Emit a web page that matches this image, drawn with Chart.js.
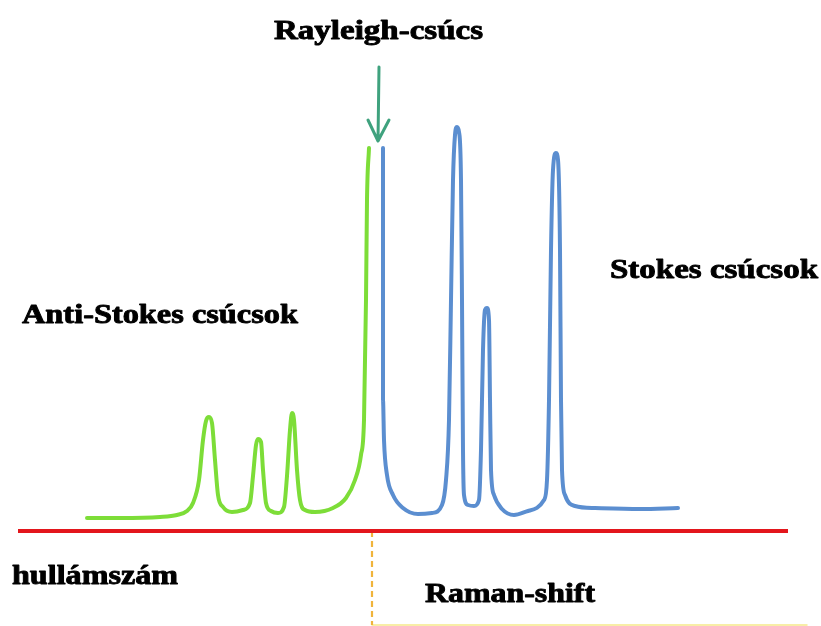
<!DOCTYPE html>
<html>
<head>
<meta charset="utf-8">
<script src="https://cdn.jsdelivr.net/npm/chart.js@4/dist/chart.umd.min.js"></script>
<style>
  html, body { margin: 0; padding: 0; background: #ffffff; }
  #wrap { width: 821px; height: 626px; }
</style>
</head>
<body>
<div id="wrap"><canvas id="c" width="821" height="626"></canvas></div>
<script>
// ---- Data (Raman shift relative to Rayleigh line = 0, intensity relative to baseline = 0) ----
const antiStokesShift = [-285, -252, -212, -195, -185, -179, -173, -169, -166, -163, -160, -157, -154, -149, -140, -129, -122, -119, -116, -114, -111, -109, -106, -101, -94, -88, -85, -82, -80, -78, -75, -72, -67, -57, -39, -26, -17, -11, -8, -6, -5, -3];
const antiStokesIntensity = [13, 13, 14, 16, 20, 28, 51, 91, 110, 114, 108, 71, 36, 24, 19, 21, 28, 55, 86, 92, 89, 61, 28, 20, 18, 24, 55, 101, 118, 111, 61, 31, 21, 19, 23, 33, 51, 76, 111, 231, 331, 383];

const stokesShift = [11, 11, 11, 12, 15, 21, 31, 46, 60, 70, 74, 77, 79, 81, 83, 85, 87, 89, 90, 91, 92, 96, 102, 107, 109, 111, 113, 115, 117, 118, 119, 122, 130, 142, 156, 172, 175, 177, 179, 181, 184, 186, 188, 189, 190, 193, 203, 223, 268, 306];
const stokesIntensity = [383, 281, 131, 91, 56, 36, 23, 17, 18, 26, 51, 111, 231, 351, 396, 404, 399, 351, 231, 81, 36, 26, 25, 31, 81, 181, 221, 223, 211, 131, 61, 36, 22, 16, 20, 31, 51, 131, 281, 361, 378, 371, 281, 131, 61, 36, 25, 23, 22, 23];

const axisShift = [-354, 416];
const axisIntensity = [0, 0];
const dividerShift = [0, 0];
const dividerIntensity = [0, -94];
const shiftAxisShift = [0, 435];
const shiftAxisIntensity = [-94, -94];
const arrowShift = [7, 6, -4, 6, 17];
const arrowIntensity = [464, 390, 411, 390, 411];

const labelTexts = ["Rayleigh-csúcs", "Anti-Stokes csúcsok", "Stokes csúcsok", "hullámszám", "Raman-shift"];

function pts(xs, ys) { return xs.map((x, i) => ({ x: x, y: ys[i] })); }

// label layout: [left, right, baseline]
const labelBoxes = [
  [274, 483, 39],
  [22, 298, 323],
  [610, 818, 278],
  [12, 178, 584],
  [425, 595, 602]
];

const textPlugin = {
  id: 'texts',
  afterDraw(chart) {
    const ctx = chart.ctx;
    ctx.save();
    ctx.fillStyle = '#000000';
    ctx.strokeStyle = '#000000';
    ctx.lineWidth = 0.9;
    ctx.lineJoin = 'round';
    ctx.font = 'bold 28px "Liberation Serif", "Times New Roman", serif';
    ctx.textBaseline = 'alphabetic';
    ctx.textAlign = 'left';
    labelTexts.forEach((t, i) => {
      const [l, r, b] = labelBoxes[i];
      const w = ctx.measureText(t).width;
      const sx = (r - l) / w;
      ctx.save();
      ctx.translate(l, b);
      ctx.scale(sx, 1);
      ctx.fillText(t, 0, 0);
      ctx.strokeText(t, 0, 0);
      ctx.restore();
    });
    ctx.restore();
  }
};

const lineBase = { showLine: true, pointRadius: 0, fill: false, borderCapStyle: 'round', borderJoinStyle: 'round' };

new Chart(document.getElementById('c'), {
  type: 'scatter',
  data: {
    datasets: [
      Object.assign({}, lineBase, { label: 'axis', data: pts(axisShift, axisIntensity), borderColor: '#e3161c', borderWidth: 4, borderCapStyle: 'butt' }),
      Object.assign({}, lineBase, { label: 'divider', data: pts(dividerShift, dividerIntensity), borderColor: '#f0b43c', borderWidth: 2.2, borderDash: [6, 4], borderCapStyle: 'butt' }),
      Object.assign({}, lineBase, { label: 'shiftAxis', data: pts(shiftAxisShift, shiftAxisIntensity), borderColor: '#f6e98a', borderWidth: 1.5 }),
      Object.assign({}, lineBase, { label: 'Anti-Stokes', data: pts(antiStokesShift, antiStokesIntensity), borderColor: '#7ddd38', borderWidth: 4, cubicInterpolationMode: 'monotone' }),
      Object.assign({}, lineBase, { label: 'Stokes', data: pts(stokesShift, stokesIntensity), borderColor: '#5b8ed0', borderWidth: 4, cubicInterpolationMode: 'monotone' }),
      Object.assign({}, lineBase, { label: 'arrow', data: pts(arrowShift, arrowIntensity), borderColor: '#3fa27e', borderWidth: 3 })
    ]
  },
  options: {
    responsive: false,
    animation: false,
    layout: { padding: 0 },
    plugins: { legend: { display: false }, tooltip: { enabled: false }, title: { display: false } },
    scales: {
      x: { type: 'linear', display: false, min: -372, max: 449 },
      y: { type: 'linear', display: false, min: -95, max: 531 }
    }
  },
  plugins: [textPlugin]
});
</script>
</body>
</html>
